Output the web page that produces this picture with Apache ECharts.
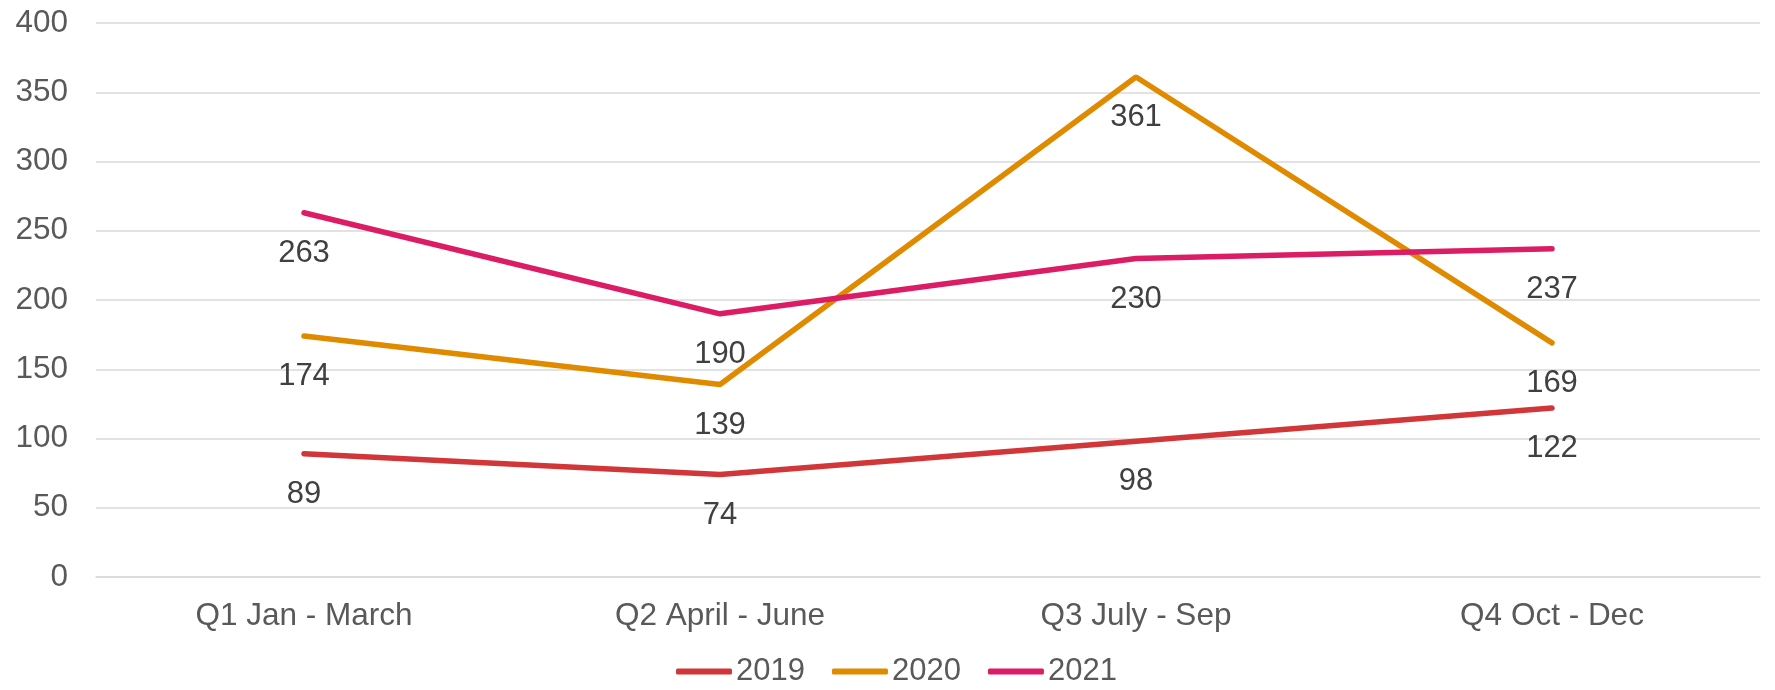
<!DOCTYPE html>
<html>
<head>
<meta charset="utf-8">
<script src="https://cdn.jsdelivr.net/npm/echarts@6/dist/echarts.min.js"></script>
<style>
  html, body { margin: 0; padding: 0; background: #fff; }
  #chart { width: 1775px; height: 690px; }
</style>
</head>
<body>
<div id="chart"></div>
<script>
  var categories = ['Q1 Jan - March', 'Q2 April - June', 'Q3 July - Sep', 'Q4 Oct - Dec']
  var data2019 = [89, 74, 98, 122]
  var data2020 = [174, 139, 361, 169]
  var data2021 = [263, 190, 230, 237]
  var yTicks = [0, 50, 100, 150, 200, 250, 300, 350, 400]

  var font = 'Liberation Sans, Arial, sans-serif'

  function lineSeries(name, data, color) {
    return {
      name: name,
      type: 'line',
      data: data,
      symbol: 'circle',
      symbolSize: 0.1,
      itemStyle: { color: color },
      lineStyle: { width: 5.5, color: color, cap: 'round' },
      label: {
        show: true,
        position: 'bottom',
        distance: 25,
        color: '#404040',
        fontSize: 31,
        fontFamily: font
      },
      emphasis: { disabled: true }
    }
  }

  var chart = echarts.init(document.getElementById('chart'))
  chart.setOption({
    animation: false,
    grid: {
      left: 96,
      right: 15,
      top: 23,
      bottom: 113
    },
    legend: {
      data: ['2019', '2020', '2021'],
      top: 656,
      left: 676,
      padding: 0,
      itemWidth: 56,
      itemHeight: 6,
      itemGap: 27,
      textStyle: { color: '#595959', fontSize: 31, fontFamily: font, padding: [0, 0, 0, -1] },
      icon: 'roundRect'
    },
    xAxis: {
      type: 'category',
      data: categories,
      axisTick: { show: false },
      axisLine: { lineStyle: { color: '#D9D9D9', width: 1.5 } },
      axisLabel: { color: '#595959', fontSize: 31.5, fontFamily: font, margin: 23 }
    },
    yAxis: {
      type: 'value',
      min: yTicks[0],
      max: yTicks[yTicks.length - 1],
      interval: 50,
      axisLine: { show: false },
      axisTick: { show: false },
      axisLabel: { color: '#595959', fontSize: 31.5, fontFamily: font, margin: 28 },
      splitLine: { lineStyle: { color: '#D9D9D9', width: 1.5 } }
    },
    series: [
      lineSeries('2019', data2019, '#D13639'),
      lineSeries('2020', data2020, '#E08A00'),
      lineSeries('2021', data2021, '#DC1C64')
    ]
  })
</script>
</body>
</html>
